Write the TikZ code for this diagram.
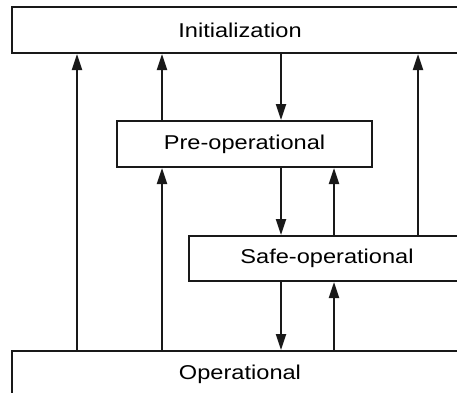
\documentclass[tikz,border=0pt]{standalone}
\usepackage{fontspec}
\setmainfont{Liberation Sans}
\usetikzlibrary{arrows.meta}
\begin{document}
\begin{tikzpicture}[x=1pt,y=-1pt,
  state/.style={draw=black!90,line width=2pt,fill=white,inner sep=0pt,
    font=\fontsize{20}{24}\selectfont},
  arr/.style={line width=2.2pt,draw=black!90,-{Triangle[length=16pt,width=10pt]}}]
\clip (0,0) rectangle (457,392);
\useasboundingbox (0,0) rectangle (457,392);
\node[state,minimum width=456pt,minimum height=46pt] (init) at (240,30) {\scalebox{1.18}[1]{Initialization}};
\node[state,minimum width=255pt,minimum height=46pt] (pre) at (244.5,144) {\scalebox{1.18}[1]{Pre-operational}};
\node[state,minimum width=276pt,minimum height=45pt] (safe) at (327,258.5) {\scalebox{1.18}[1]{Safe-operational}};
\node[state,minimum width=456pt,minimum height=46pt] (op) at (240,374) {\scalebox{1.18}[1]{Operational}};
\draw[arr] (77,0 |- op.north) -- (77,0 |- init.south);
\draw[arr] (162,0 |- pre.north) -- (162,0 |- init.south);
\draw[arr] (281,0 |- init.south) -- (281,0 |- pre.north);
\draw[arr] (162,0 |- op.north) -- (162,0 |- pre.south);
\draw[arr] (281,0 |- pre.south) -- (281,0 |- safe.north);
\draw[arr] (334,0 |- safe.north) -- (334,0 |- pre.south);
\draw[arr] (418,0 |- safe.north) -- (418,0 |- init.south);
\draw[arr] (281,0 |- safe.south) -- (281,0 |- op.north);
\draw[arr] (334,0 |- op.north) -- (334,0 |- safe.south);
\end{tikzpicture}
\end{document}
